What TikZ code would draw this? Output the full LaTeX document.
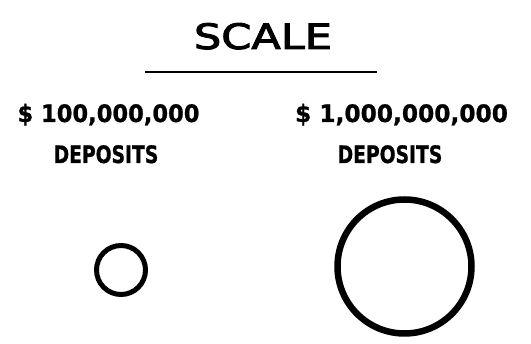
\documentclass[tikz,border=0pt]{standalone}
\usepackage{fontspec}
\usepackage{graphicx}
\setmainfont{DejaVu Sans}
\newfontfamily\titlefont[FakeBold=2.5]{DejaVu Sans}
\newfontfamily\labelfont[FakeBold=1]{DejaVu Sans Bold}
\begin{document}
\begin{tikzpicture}[x=1pt,y=-1pt,
  title/.style={inner sep=0pt,anchor=base,font=\titlefont\fontsize{35}{36}\selectfont},
  label/.style={inner sep=0pt,anchor=base,font=\labelfont\fontsize{24}{26}\selectfont},
  ring/.style={draw=black,circle,inner sep=0pt}]
\useasboundingbox (0,0) rectangle (531,344);
\node[title] (t) at (263,49) {\scalebox{1.23}[1]{SCALE}};
\coordinate (ul) at (145,72);
\coordinate (ur) at (377,72);
\draw[line width=2pt] (ul) -- (ur);
\node[label] (a1) at (108.5,122) {\scalebox{0.94}[1]{\$ 100,000,000}};
\node[label] (a2) at (106,163) {\scalebox{0.78}[1]{DEPOSITS}};
\node[label] (b1) at (401.5,122) {\scalebox{0.97}[1]{\$ 1,000,000,000}};
\node[label] (b2) at (390,163) {\scalebox{0.78}[1]{DEPOSITS}};
\node[ring,line width=5pt,minimum size=49pt] (c1) at (121,270) {};
\node[ring,line width=6.5pt,minimum size=134pt] (c2) at (404.5,266.5) {};
\end{tikzpicture}
\end{document}
